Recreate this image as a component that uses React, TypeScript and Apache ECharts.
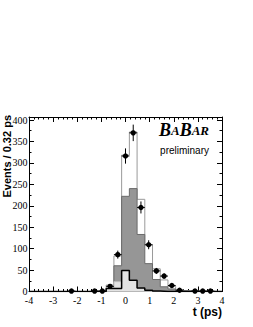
import React, { useEffect, useRef } from "react";
import * as echarts from "echarts";

// Data points (bin centers in ps, events per 0.32 ps)
const pointX = [-2.24, -1.28, -0.96, -0.64, -0.32, 0.0, 0.32, 0.64, 0.96, 1.28, 1.6, 1.92, 2.24, 2.88, 3.2, 3.52];
const pointY = [1, 1, 1, 12, 86, 316, 370, 196, 109, 48, 36, 14, 3, 1, 1, 1];

// Histogram components (bin centers, width 0.32 ps)
const binWidth = 0.32;
const binCenters = [-1.28, -0.96, -0.64, -0.32, 0.0, 0.32, 0.64, 0.96, 1.28, 1.6, 1.92, 2.24, 2.56, 2.88];
const totalHist = [1, 2, 15, 83, 318, 372, 215, 109, 53, 27, 12, 4, 2, 1];
const darkHist = [0, 1, 6, 60, 222, 240, 133, 65, 28, 11, 6, 2, 1, 0];
const lightHist = [0, 1, 8, 23, 49, 26, 8, 3, 1, 0, 0, 0, 0, 0];
const blackHist = [0, 0, 7, 7, 49, 26, 8, 3, 1, 0, 0, 0, 0, 0];

const yMax = 407;

function stepData(vals: number[]) {
  const pts: number[][] = [[-4, 0]];
  vals.forEach((v, i) => pts.push([binCenters[i] - binWidth / 2, v]));
  pts.push([binCenters[binCenters.length - 1] + binWidth / 2, 0]);
  pts.push([4, 0]);
  return pts;
}

export default function App() {
  const ref = useRef<HTMLDivElement>(null);
  useEffect(() => {
    const chart = echarts.init(ref.current!, null, { renderer: "svg" });
    const serif = "Liberation Serif, Times New Roman, serif";
    const sans = "Liberation Sans, Arial, sans-serif";
    const axisBase = {
      axisLine: { show: true, onZero: false, lineStyle: { color: "#000", width: 1 } },
      splitLine: { show: false },
    };
    const tick = { inside: true, length: 5, lineStyle: { color: "#000" } };
    const option: any = {
      animation: false,
      backgroundColor: "#fff",
      grid: { left: 29, right: 31, top: 117, bottom: 35.5 },
      xAxis: [
        {
          ...axisBase,
          type: "value",
          min: -4,
          max: 4,
          interval: 1,
          position: "bottom",
          axisTick: tick,
          minorTick: { show: true, splitNumber: 5, length: 2.5, lineStyle: { color: "#000" } },
          axisLabel: { fontFamily: serif, fontSize: 10, color: "#000", margin: 4 },
        },
        {
          ...axisBase,
          type: "value",
          min: -4,
          max: 4,
          interval: 1,
          position: "top",
          axisTick: tick,
          minorTick: { show: true, splitNumber: 5, length: 2.5, lineStyle: { color: "#000" } },
          axisLabel: { show: false },
        },
      ],
      yAxis: [
        {
          ...axisBase,
          type: "value",
          min: 0,
          max: yMax,
          interval: 50,
          position: "left",
          axisTick: tick,
          minorTick: { show: true, splitNumber: 2, length: 2.5, lineStyle: { color: "#000" } },
          axisLabel: { fontFamily: serif, fontSize: 10, color: "#000", margin: 1.5, showMaxLabel: false },
        },
        {
          ...axisBase,
          type: "value",
          min: 0,
          max: yMax,
          interval: 50,
          position: "right",
          axisTick: tick,
          minorTick: { show: true, splitNumber: 2, length: 2.5, lineStyle: { color: "#000" } },
          axisLabel: { show: false },
        },
      ],
      series: [
        {
          type: "line",
          step: "end",
          data: stepData(totalHist),
          showSymbol: false,
          lineStyle: { color: "#9a9a9a", width: 1 },
          areaStyle: { color: "#ffffff", opacity: 1 },
          z: 1,
        },
        {
          type: "line",
          step: "end",
          data: stepData(darkHist),
          showSymbol: false,
          lineStyle: { color: "#6a6a6a", width: 1 },
          areaStyle: { color: "#969696", opacity: 1 },
          z: 2,
        },
        {
          type: "line",
          step: "end",
          data: stepData(lightHist),
          showSymbol: false,
          lineStyle: { color: "#bdbdbd", width: 1 },
          areaStyle: { color: "#e3e3e3", opacity: 1 },
          z: 3,
        },
        {
          type: "line",
          step: "end",
          data: stepData(blackHist),
          showSymbol: false,
          lineStyle: { color: "#000", width: 1.5 },
          z: 4,
        },
        {
          type: "custom",
          data: pointX.map((x, i) => [x, pointY[i]]),
          z: 5,
          renderItem: (params: any, api: any) => {
            const x = api.value(0);
            const y = api.value(1);
            const e = Math.sqrt(y);
            const lo = api.coord([x, Math.max(0, y - e)]);
            const hi = api.coord([x, y + e]);
            const l = api.coord([x - binWidth / 2, y]);
            const r = api.coord([x + binWidth / 2, y]);
            const c = api.coord([x, y]);
            const st = { stroke: "#000", lineWidth: 1 };
            return {
              type: "group",
              children: [
                { type: "line", shape: { x1: lo[0], y1: lo[1], x2: hi[0], y2: hi[1] }, style: st },
                { type: "line", shape: { x1: l[0], y1: l[1], x2: r[0], y2: r[1] }, style: st },
                { type: "circle", shape: { cx: c[0], cy: c[1], r: 2.7 }, style: { fill: "#000" } },
              ],
            };
          },
        },
      ],
      graphic: [
        {
          type: "text",
          x: 7,
          y: 115,
          rotation: Math.PI / 2,
          style: {
            text: "Events / 0.32 ps",
            font: `bold 11px ${sans}`,
            fill: "#000",
            align: "right",
            verticalAlign: "middle",
          },
        },
        {
          type: "text",
          x: 222,
          y: 312,
          style: {
            text: "t (ps)",
            font: `bold 12px ${sans}`,
            fill: "#000",
            align: "right",
            verticalAlign: "middle",
          },
        },
        {
          type: "text",
          x: 209,
          y: 139,
          style: {
            text: "{b|B}{s|A}{b|B}{s|AR}",
            align: "right",
            verticalAlign: "bottom",
            rich: {
              b: { fontFamily: serif, fontStyle: "italic", fontWeight: "bold", fontSize: 18, fill: "#000", color: "#000" },
              s: { fontFamily: serif, fontStyle: "italic", fontWeight: "bold", fontSize: 13, fill: "#000", color: "#000" },
            },
          },
        },
        {
          type: "text",
          x: 209,
          y: 150,
          style: {
            text: "preliminary",
            font: `10px ${sans}`,
            fill: "#000",
            align: "right",
            verticalAlign: "middle",
          },
        },
      ],
    };
    chart.setOption(option);
    return () => chart.dispose();
  }, []);
  return <div ref={ref} style={{ position: "fixed", left: 0, top: 0, width: 253, height: 327 }} />;
}
